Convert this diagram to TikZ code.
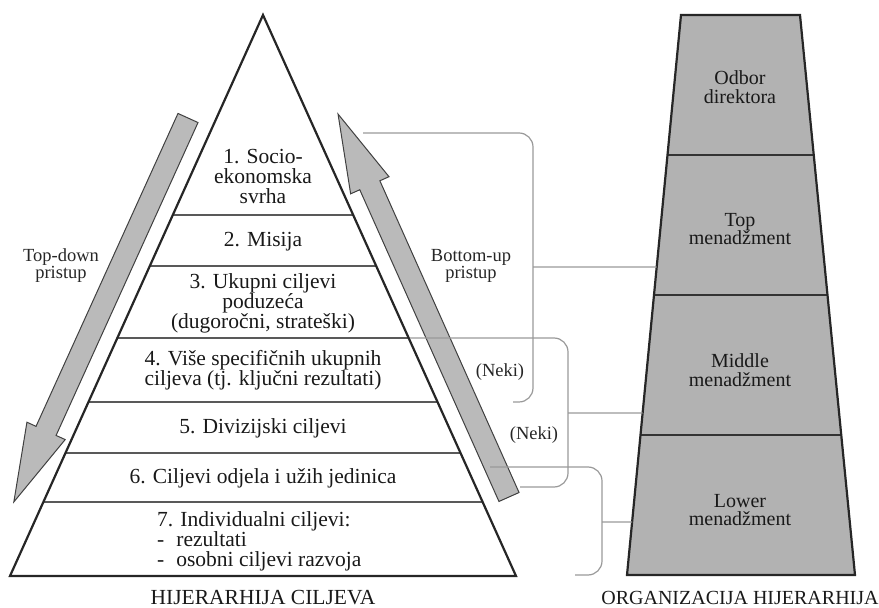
\documentclass[tikz,border=0pt]{standalone}
\usepackage{fontspec}
\setmainfont{Liberation Serif}
\usepackage{tikz}
\usetikzlibrary{calc,positioning}
\newcommand\lvlfont{\fontsize{21.5}{20}\selectfont}
\newcommand\sidefont{\fontsize{18.5}{17}\selectfont}
\newcommand\orgfont{\fontsize{20}{18.5}\selectfont}
\newcommand\capfont{\fontsize{20}{20}\selectfont}

\begin{document}
\begin{tikzpicture}[
    x=1pt, y=1pt,
    inner sep=0pt,
    lvl/.style={align=center, font=\lvlfont, text=black!90},
    side/.style={align=center, font=\sidefont, text=black!85},
    orgtxt/.style={align=center, font=\orgfont, text=black!90},
    captxt/.style={font=\capfont, text=black!90},
    edge/.style={draw=black!85, line width=2.2pt, line join=miter},
    divider/.style={draw=black!65, line width=1.5pt},
    bigarrow/.style={draw=black!75, fill=black!27, line width=1pt, line join=miter},
    brk/.style={draw=black!40, line width=1.2pt, rounded corners=14pt},
    link/.style={draw=black!40, line width=1.2pt},
    ]
    \useasboundingbox (0,0) rectangle (879,608);

    %triangle
    \coordinate (apex) at (263,593);
    \coordinate (bl) at (10,32);
    \coordinate (br) at (516,32);
    \foreach \t in {0.3565,0.4474,0.5758,0.6898,0.7807,0.8681}
        \draw[divider] ($(apex)!\t!(bl)$) -- ($(apex)!\t!(br)$);
    \draw[edge] (apex) -- (bl) -- (br) -- cycle;

    %goals
    \node[lvl] (l1) at (263,432) {1. Socio-\\ekonomska\\svrha};
    \node[lvl] (l2) at (263,366) {2. Misija};
    \node[lvl] (l3) at (263,305) {3. Ukupni ciljevi\\poduzeća\\(dugoročni, strateški)};
    \node[lvl] (l4) at (263,238) {4. Više specifičnih ukupnih\\ciljeva (tj. ključni rezultati)};
    \node[lvl] (l5) at (263,180) {5. Divizijski ciljevi};
    \node[lvl] (l6) at (263,130) {6. Ciljevi odjela i užih jedinica};
    \node[lvl, align=left, anchor=west] (l7) at (157,67)
        {7. Individualni ciljevi:\\-\hspace{12pt}rezultati\\-\hspace{12pt}osobni ciljevi razvoja};

    %top-down arrow
    \begin{scope}[shift={(188,490)}, rotate=245.6]
        \draw[bigarrow] (0,-11) -- (343.6,-11) -- (343.6,-21) -- (421.6,0)
            -- (343.6,21) -- (343.6,11) -- (0,11) -- cycle;
    \end{scope}
    %bottom-up arrow
    \begin{scope}[shift={(509,111)}, rotate=114.06]
        \draw[bigarrow] (0,-11) -- (341.4,-11) -- (341.4,-21) -- (419.4,0)
            -- (341.4,21) -- (341.4,11) -- (0,11) -- cycle;
    \end{scope}

    \node[side] (td) at (61,342) {Top-down\\pristup};
    \node[side] (bu) at (471,342) {Bottom-up\\pristup};
    \node[side] (neki1) at (500,236) {(Neki)};
    \node[side] (neki2) at (534,173) {(Neki)};

    %organisation
    \coordinate (tbl) at (627,33);
    \coordinate (ttl) at (681,593);
    \coordinate (ttr) at (800,593);
    \coordinate (tbr) at (855,33);
    \fill[black!30] (tbl) -- (ttl) -- (ttr) -- (tbr) -- cycle;
    \foreach \t in {0.25,0.5,0.75}
        \draw[divider, draw=black!80] ($(tbl)!\t!(ttl)$) -- ($(tbr)!\t!(ttr)$);
    \draw[edge] (tbl) -- (ttl) -- (ttr) -- (tbr) -- cycle;

    \node[orgtxt] (o1) at (740,521) {Odbor\\direktora};
    \node[orgtxt] (o2) at (740,379) {Top\\menadžment};
    \node[orgtxt] (o3) at (740,238) {Middle\\menadžment};
    \node[orgtxt] (o4) at (740,98) {Lower\\menadžment};

    %brackets
    \draw[brk] (363,475) -- (533,475) -- (533,206) -- (513,206);
    \draw[brk] (410,270) -- (568,270) -- (568,121) -- (520,121);
    \draw[brk] (490,141) -- (602,141) -- (602,33) -- (575,33);
    \coordinate (b1) at (533,341);
    \coordinate (b2) at (568,195);
    \coordinate (b3) at (602,86);
    \coordinate (e1) at ($(tbl)!0.55!(ttl)$);
    \coordinate (e2) at ($(tbl)!0.2893!(ttl)$);
    \coordinate (e3) at ($(tbl)!0.0946!(ttl)$);
    \draw[link] (b1) -- (e1);
    \draw[link] (b2) -- (e2);
    \draw[link] (b3) -- (e3);

    %captions
    \node[captxt, font=\fontsize{21.5}{20}\selectfont] (capl) at (263,10) {HIJERARHIJA CILJEVA};
    \node[captxt] (capr) at (740,10) {ORGANIZACIJA HIJERARHIJA};

\end{tikzpicture}
\end{document}
